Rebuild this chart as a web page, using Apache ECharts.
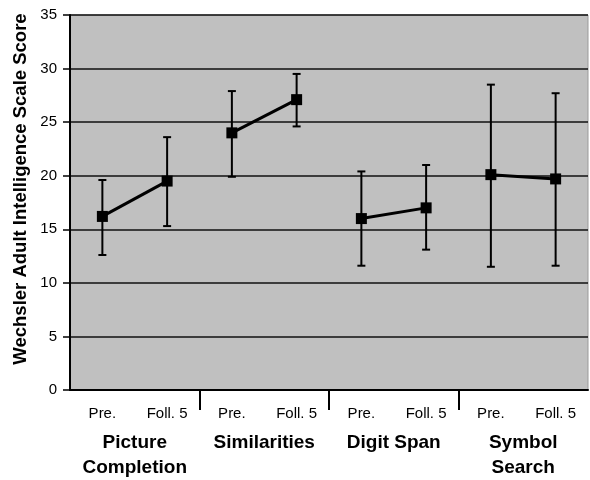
<!DOCTYPE html>
<html>
<head>
<meta charset="utf-8">
<script src="https://cdn.jsdelivr.net/npm/echarts@6/dist/echarts.min.js"></script>
<style>html,body{margin:0;padding:0;background:#fff}#c{width:590px;height:480px}</style>
</head>
<body>
<div id="c"></div>
<script>
var categories = ['Pre.', 'Foll. 5', 'Pre.', 'Foll. 5', 'Pre.', 'Foll. 5', 'Pre.', 'Foll. 5'];
var groups = ['Picture\nCompletion', 'Similarities', 'Digit Span', 'Symbol\nSearch'];
var means = [16.2, 19.5, 24.0, 27.1, 16.0, 17.0, 20.1, 19.7];
var upper = [19.6, 23.6, 27.9, 29.5, 20.4, 21.0, 28.5, 27.7];
var lower = [12.6, 15.3, 19.9, 24.6, 11.6, 13.1, 11.5, 11.6];
var yTicks = [0, 5, 10, 15, 20, 25, 30, 35];
var yTitle = 'Wechsler Adult Intelligence Scale Score';

var FONT = 'Arial, "Liberation Sans", sans-serif';
var chart = echarts.init(document.getElementById('c'));

var lineSeries = groups.map(function (g, gi) {
  var d = categories.map(function (c, i) {
    return (Math.floor(i / 2) === gi) ? means[i] : '-';
  });
  return {
    type: 'line', name: g, data: d, xAxisIndex: 0,
    symbol: 'rect', symbolSize: 11, connectNulls: false,
    lineStyle: { color: '#000', width: 3 },
    itemStyle: { color: '#000' }, z: 5, animation: false
  };
});

var errData = categories.map(function (c, i) { return [i, lower[i], upper[i]]; });
// group separators between the last category of one group and the first of the next
var sepData = [];
for (var g = 1; g < groups.length; g++) { sepData.push([2 * g - 1, 2 * g]); }

var option = {
  animation: false,
  backgroundColor: '#fff',
  grid: { left: 70, right: 2, top: 15, bottom: 86, show: true, backgroundColor: '#c0c0c0', borderColor: '#9a9a9a', borderWidth: 1 },
  xAxis: [{
    type: 'category', data: categories, position: 'bottom', boundaryGap: true,
    axisLine: { show: true, lineStyle: { color: '#000', width: 2 } },
    axisTick: { show: false },
    axisLabel: { color: '#000', fontFamily: FONT, fontSize: 15, margin: 16, interval: 0 }
  }, {
    type: 'category', data: groups, position: 'bottom', boundaryGap: true,
    axisLine: { show: false },
    axisTick: { show: false },
    axisLabel: { color: '#000', fontFamily: FONT, fontSize: 19, fontWeight: 'bold', margin: 40, interval: 0, lineHeight: 25, verticalAlign: 'top' }
  }],
  yAxis: {
    type: 'value', min: 0, max: 35, interval: 5,
    axisLine: { show: true, lineStyle: { color: '#000', width: 2 } },
    axisTick: { show: true, length: 7, lineStyle: { color: '#000', width: 1.5 } },
    axisLabel: { color: '#000', fontFamily: FONT, fontSize: 15, margin: 13,
      formatter: function (v) { return yTicks.indexOf(v) >= 0 ? String(v) : ''; } },
    splitLine: { show: true, lineStyle: { color: '#111', width: 1.5 } }
  },
  graphic: [{
    type: 'text', x: 21, y: 189, rotation: Math.PI / 2,
    style: { text: yTitle, fontFamily: FONT, fontSize: 18.5, fontWeight: 'bold', fill: '#000', textAlign: 'center', textVerticalAlign: 'middle' }
  }],
  series: lineSeries.concat([{
    type: 'custom', xAxisIndex: 0, data: errData, z: 4,
    renderItem: function (params, api) {
      var x = api.value(0);
      var lo = api.coord([x, api.value(1)]);
      var hi = api.coord([x, api.value(2)]);
      var cw = 4;
      var st = { stroke: '#000', lineWidth: 2 };
      return { type: 'group', children: [
        { type: 'line', shape: { x1: lo[0], y1: lo[1], x2: hi[0], y2: hi[1] }, style: st },
        { type: 'line', shape: { x1: lo[0] - cw, y1: lo[1], x2: lo[0] + cw, y2: lo[1] }, style: st },
        { type: 'line', shape: { x1: hi[0] - cw, y1: hi[1], x2: hi[0] + cw, y2: hi[1] }, style: st }
      ] };
    }
  }, {
    type: 'custom', xAxisIndex: 0, data: sepData, z: 6, clip: false, silent: true,
    renderItem: function (params, api) {
      var a = api.coord([api.value(0), 0]);
      var b = api.coord([api.value(1), 0]);
      var mx = Math.round((a[0] + b[0]) / 2);
      return { type: 'line', shape: { x1: mx, y1: a[1], x2: mx, y2: a[1] + 20 }, style: { stroke: '#000', lineWidth: 2 } };
    }
  }])
};
chart.setOption(option);
</script>
</body>
</html>
